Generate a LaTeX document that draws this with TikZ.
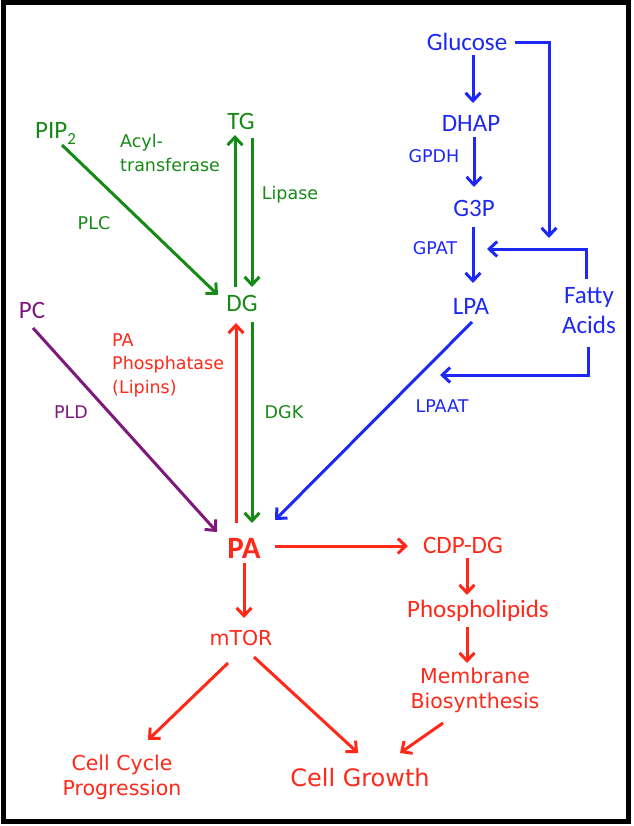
\documentclass[tikz,border=0pt]{standalone}
\usepackage{fontspec}
\setmainfont{Carlito}
\newfontfamily\cfont{DejaVu Sans}
\usetikzlibrary{arrows.meta,calc}
\definecolor{cgreen}{RGB}{22,138,22}
\definecolor{cblue}{RGB}{30,40,245}
\definecolor{cred}{RGB}{255,40,25}
\definecolor{cpurple}{RGB}{125,25,125}
\begin{document}
\begin{tikzpicture}[x=1pt,y=-1pt,
  main/.style={inner sep=0pt, font=\fontsize{25}{30}\selectfont, align=center},
  enz/.style={inner sep=0pt, font=\cfont\fontsize{17.5}{23.5}\selectfont},
  big/.style={inner sep=0pt, font=\cfont\fontsize{20.5}{25}\selectfont, align=center},
  arr/.style={line width=3pt, -{Straight Barb[length=8pt,width=15pt]}}]
\useasboundingbox (0,0) rectangle (633,826);
\draw[line width=5pt] (3,3) rectangle (628,821);

% blue pathway
\node[main, text=cblue] (glc) at (467,42) {Glucose};
\node[main, text=cblue] (dhap) at (471,123) {DHAP};
\node[enz, text=cblue] (gpdh) at (434,156) {GPDH};
\node[main, text=cblue] (g3p) at (474,208) {G3P};
\node[enz, text=cblue] (gpat) at (435,248) {GPAT};
\node[main, text=cblue] (lpa) at (471,306) {LPA};
\node[main, text=cblue] (fa) at (589,311) {Fatty\\Acids};
\node[enz, text=cblue] (lpaat) at (442,406) {LPAAT};
\coordinate (j1) at (549,238);
\coordinate (j2) at (487,249);
\coordinate (j3) at (440,375);

% green pathway
\node[main, text=cgreen, anchor=base west] (pip) at (35,139) {PIP\raisebox{-6pt}{\fontsize{17}{17}\selectfont 2}};
\node[enz, text=cgreen] (plc) at (94,223) {PLC};
\node[main, text=cgreen] (tg) at (241,121) {TG};
\node[enz, text=cgreen, align=left, anchor=west] (acyl) at (120,153) {Acyl-\\transferase};
\node[enz, text=cgreen] (lipase) at (290,195) {Lipase};
\node[main, text=cgreen] (dg) at (242,303) {DG};
\node[enz, text=cgreen] (dgk) at (284,412) {DGK};

% purple
\node[main, text=cpurple] (pc) at (32,310) {PC};
\node[enz, text=cpurple] (pld) at (71,412) {PLD};

% red
\node[enz, text=cred, align=left, anchor=west] (pap) at (112,365) {PA\\Phosphatase\\(Lipins)};
\node[inner sep=0pt, text=cred, font=\fontsize{31}{34}\selectfont\bfseries] (pa) at (244,548) {PA};
\node[main, text=cred] (cdp) at (463,545) {CDP-DG};
\node[main, text=cred] (phos) at (478,611) {Phospholipids};
\node[big, text=cred] (memb) at (475,690) {Membrane\\Biosynthesis};
\node[big, text=cred] (mtor) at (241,638) {mTOR};
\node[big, text=cred] (ccp) at (122,777) {Cell Cycle\\Progression};
\node[inner sep=0pt, text=cred, font=\cfont\fontsize{24}{28}\selectfont] (cg) at (360,778) {Cell Growth};

% blue arrows
\draw[arr, cblue] ($(glc)+(6,13)$) -- ($(dhap)+(2,-20)$);
\draw[arr, cblue] ($(glc)+(48,1)$) -| (j1);
\draw[arr, cblue] ($(dhap)+(3,14)$) -- ($(g3p)+(0,-21)$);
\draw[arr, cblue] ($(g3p)+(-1,19)$) -- ($(lpa)+(2,-23)$);
\draw[arr, cblue] ($(fa)+(-3,-32)$) |- (j2);
\draw[arr, cblue] ($(fa)+(-1,36)$) |- (j3);
\draw[arr, cblue] ($(lpa)+(1,16)$) -- ($(pa)+(31,-28)$);

% green arrows
\draw[arr, cgreen] ($(pip.base west)+(27,6)$) -- ($(dg)+(-24,-8)$);
\draw[arr, cgreen] ($(dg)+(-7,-16)$) -- ($(tg)+(-6,14)$);
\draw[arr, cgreen] ($(tg)+(11,17)$) -- ($(dg)+(10,-16)$);
\draw[arr, cgreen] ($(dg)+(10,19)$) -- ($(pa)+(8,-25)$);

% red / purple arrows
\draw[arr, cred] ($(pa)+(-8,-25)$) -- ($(dg)+(-6,20)$);
\draw[arr, cpurple] ($(pc)+(1,18)$) -- ($(pa)+(-27,-16)$);
\draw[arr, cred] ($(pa)+(31,-2)$) -- ($(cdp)+(-55,1)$);
\draw[arr, cred] ($(pa)+(0,15)$) -- ($(mtor)+(3,-20)$);
\draw[arr, cred] ($(cdp)+(4,13)$) -- ($(phos)+(-11,-16)$);
\draw[arr, cred] ($(phos)+(-11,16)$) -- ($(memb)+(-8,-27)$);
\draw[arr, cred] ($(mtor)+(-13,25)$) -- ($(ccp)+(26,-37)$);
\draw[arr, cred] ($(mtor)+(13,19)$) -- ($(cg)+(-2,-25)$);
\draw[arr, cred] ($(memb)+(-32,33)$) -- ($(cg)+(40,-25)$);
\end{tikzpicture}
\end{document}
